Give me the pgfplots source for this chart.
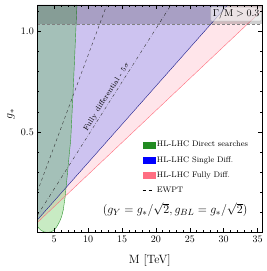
\documentclass[border=0pt]{standalone}
\usepackage{pgfplots}
\pgfplotsset{compat=1.18}
\definecolor{purplefill}{RGB}{205,195,240}
\definecolor{pinkfill}{RGB}{255,229,234}
\definecolor{greenfill}{RGB}{72,188,55}
\definecolor{greenline}{RGB}{50,150,50}
\definecolor{blueline}{RGB}{30,30,140}
\definecolor{redline}{RGB}{255,110,125}
\definecolor{leggreen}{RGB}{34,139,34}
\definecolor{legblue}{RGB}{0,0,255}
\definecolor{legpink}{RGB}{255,110,130}
\begin{document}
\begin{tikzpicture}
\path[use as bounding box] (0,0) rectangle (266pt,271pt);
\begin{axis}[
 at={(37.3pt,38.5pt)}, anchor=south west,
 scale only axis, width=225pt, height=227.5pt,
 xmin=2.5, xmax=35.7, ymin=0, ymax=1.13,
 xtick={5,10,...,35}, minor x tick num=4,
 ytick={0.5,1.0}, minor ytick={0.1,0.2,0.3,0.4,0.6,0.7,0.8,0.9,1.1},
 yticklabel style={/pgf/number format/.cd, fixed, fixed zerofill, precision=1},
 tick label style={font=\fontsize{10}{12}\selectfont},
 xlabel={M [TeV]}, ylabel={$g_*$},
 label style={font=\fontsize{12}{14}\selectfont},
 xlabel style={at={(axis description cs:0.5,-0.121)}, anchor=center},
 ylabel style={at={(axis description cs:-0.117,0.52)}, anchor=center},
 tick style={black, thin}, major tick length=4pt, minor tick length=2pt,
 axis on top,
 legend style={at={(axis cs:18.0,0.464)}, anchor=north west, draw=none, fill=none,
   inner sep=0pt, row sep=4pt, font=\footnotesize, cells={anchor=west}},
 legend cell align=left,
]
% pink: excluded above red line
\addplot[fill=pinkfill, draw=none, forget plot] coordinates {(2.5,0.0495) (35.7,1.105) (35.7,1.13) (2.5,1.13)} -- cycle;
% purple: excluded above blue line
\addplot[fill=purplefill, draw=none, forget plot] coordinates {(2.5,0.062) (30.6,1.13) (2.5,1.13)} -- cycle;
% green direct searches
\addplot[fill=greenfill, fill opacity=0.3, draw=none, forget plot] coordinates {
 (2.5,0.03) (3.0,0.012) (3.5,0.003) (4.0,0.0) (4.5,0.003) (5.0,0.012) (5.4,0.03)
 (5.8,0.055) (6.1,0.08) (6.35,0.115) (6.6,0.175) (6.85,0.26) (7.05,0.33) (7.25,0.40)
 (7.43,0.46) (7.77,0.69) (8.05,0.9) (8.35,1.13) (2.5,1.13)} -- cycle;
\addplot[greenline, thin, forget plot] coordinates {
 (2.5,0.03) (3.0,0.012) (3.5,0.003) (4.0,0.0) (4.5,0.003) (5.0,0.012) (5.4,0.03)
 (5.8,0.055) (6.1,0.08) (6.35,0.115) (6.6,0.175) (6.85,0.26) (7.05,0.33) (7.25,0.40)
 (7.43,0.46) (7.77,0.69) (8.05,0.9) (8.35,1.13)};
% lines
\addplot[blueline, thin, forget plot] coordinates {(2.5,0.062) (30.6,1.13)};
\addplot[redline, thin, forget plot] coordinates {(2.5,0.0495) (35.7,1.105)};
\addplot[black!80, thin, dashed, forget plot] coordinates {(2.5,0.2023) (12.75,1.13)};
\addplot[black!80, thin, dash dot, forget plot] coordinates {(2.5,0.0845) (22.22,1.13)};
% width band
\addplot[fill=black, fill opacity=0.18, draw=none, forget plot] coordinates {(2.5,1.035) (35.7,1.035) (35.7,1.13) (2.5,1.13)} -- cycle;
\addplot[gray, densely dashed, forget plot] coordinates {(2.5,1.035) (35.7,1.035)};
% legend
\addlegendimage{legend image code/.code={\fill[leggreen] (0pt,-3pt) rectangle (12pt,3pt);}}
\addlegendentry{HL-LHC Direct searches}
\addlegendimage{legend image code/.code={\fill[legblue] (0pt,-3pt) rectangle (12pt,3pt);}}
\addlegendentry{HL-LHC Single Diff.}
\addlegendimage{legend image code/.code={\fill[legpink] (0pt,-3pt) rectangle (12pt,3pt);}}
\addlegendentry{HL-LHC Fully Diff.}
\addlegendimage{legend image code/.code={\draw[black, thin, dashed] (0pt,0pt) -- (12pt,0pt);}}
\addlegendentry{EWPT}
\node[font=\fontsize{13}{15}\selectfont] at (axis cs:22.84,0.112) {$(g_Y = g_*/\sqrt{2}, g_{BL} = g_*/\sqrt{2})$};
\node[anchor=east, fill=white, fill opacity=0.6, text opacity=1, draw=gray!50, rounded corners=1pt, inner sep=2pt, font=\fontsize{10}{12}\selectfont] at (axis cs:35.6,1.085) {$\Gamma/\mathrm{M} > 0.3$};
\node[rotate=57.6, anchor=south, inner sep=1.5pt, font=\fontsize{7.4}{9}\selectfont] at (axis cs:13.36,0.66) {Fully differential - $5\sigma$};
\end{axis}
\end{tikzpicture}
\end{document}
